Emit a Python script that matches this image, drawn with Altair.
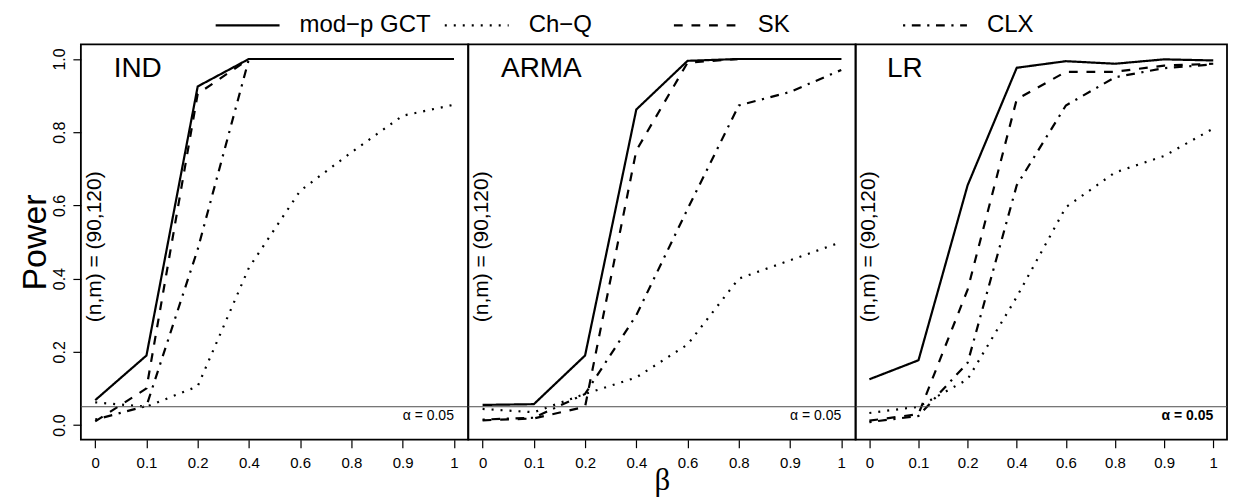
import json
import altair as alt
import pandas as pd

# ---------------- data ----------------
BETA_LABELS = ["0", "0.1", "0.2", "0.4", "0.6", "0.8", "0.9", "1"]
SERIES = ["mod−p GCT", "Ch−Q", "SK", "CLX"]
PANELS = ["IND", "ARMA", "LR"]
SETTING = "(n,m) = (90,120)"
ALPHA_TEXT = "α = 0.05"
ALPHA = 0.05

IND_GCT = [0.068, 0.19, 0.925, 1.0, 1.0, 1.0, 1.0, 1.0]
IND_CHQ = [0.062, 0.05, 0.106, 0.43, 0.64, 0.745, 0.845, 0.875]
IND_SK = [0.010, 0.10, 0.905, 1.0, 1.0, 1.0, 1.0, 1.0]
IND_CLX = [0.015, 0.052, 0.48, 1.0, 1.0, 1.0, 1.0, 1.0]

ARMA_GCT = [0.055, 0.057, 0.19, 0.862, 0.995, 1.0, 1.0, 1.0]
ARMA_CHQ = [0.044, 0.035, 0.085, 0.13, 0.22, 0.40, 0.45, 0.50]
ARMA_SK = [0.013, 0.018, 0.05, 0.75, 0.99, 1.0, 1.0, 1.0]
ARMA_CLX = [0.015, 0.02, 0.085, 0.30, 0.59, 0.873, 0.91, 0.97]

LR_GCT = [0.125, 0.177, 0.655, 0.976, 0.994, 0.987, 0.999, 0.996]
LR_CHQ = [0.033, 0.05, 0.125, 0.35, 0.595, 0.69, 0.735, 0.81]
LR_SK = [0.012, 0.03, 0.37, 0.89, 0.965, 0.965, 0.982, 0.987]
LR_CLX = [0.008, 0.025, 0.17, 0.655, 0.873, 0.95, 0.975, 0.985]

PANEL_DATA = {
    "IND": [IND_GCT, IND_CHQ, IND_SK, IND_CLX],
    "ARMA": [ARMA_GCT, ARMA_CHQ, ARMA_SK, ARMA_CLX],
    "LR": [LR_GCT, LR_CHQ, LR_SK, LR_CLX],
}

rows = []
for p in PANELS:
    for s, vals in zip(SERIES, PANEL_DATA[p]):
        for i, v in enumerate(vals):
            rows.append({"panel": p, "series": s, "idx": i + 1, "power": v})
df = pd.DataFrame(rows)

# ---------------- styling ----------------
FONT = "Liberation Sans"
PANEL_W = [388, 388, 372]
PH = 396

dash_scale = alt.Scale(domain=SERIES,
                       range=[[1, 0], [2, 7], [8.8, 8.8], [2.2, 6.6, 8.8, 6.6]])
legend = alt.Legend(orient="none", legendX=155, legendY=-31,
                    direction="horizontal", columns=4, title=None,
                    symbolType="M-3,0H3", symbolSize=455, symbolStrokeWidth=2.2,
                    symbolStrokeColor="black", symbolFillColor="transparent",
                    labelFontSize=24, labelFont=FONT,
                    labelColor="black", labelOffset=40, columnPadding=8.5,
                    gridAlign="all", padding=0)

x_scale = alt.Scale(domain=[0.72, 8.28], nice=False, zero=False)
y_scale = alt.Scale(domain=[-0.04, 1.04], nice=False, zero=False)
label_expr = f"{json.dumps(BETA_LABELS)}[datum.value - 1]"


def x_axis(i):
    kw = dict(values=list(range(1, 9)), labelExpr=label_expr, domain=False,
              grid=False, tickSize=8, tickColor="black", tickWidth=1.2,
              labelFontSize=15, labelFont=FONT, labelColor="black",
              labelPadding=8, labelAngle=0, labelFlush=False, labelOverlap=False)
    if i == 1:
        kw.update(title="β", titleFontSize=31, titleFont="Liberation Serif",
                  titleFontWeight="normal", titleColor="black",
                  titleX=PANEL_W[1] / 2, titleY=50, titleAlign="center",
                  titleBaseline="alphabetic")
    else:
        kw.update(title="")
    return alt.Axis(**kw)


y_axis = alt.Axis(values=[0, 0.2, 0.4, 0.6, 0.8, 1.0], format=".1f",
                  domain=False, grid=False, tickSize=8, tickColor="black",
                  tickWidth=1.2, labelAngle=270, labelFontSize=16,
                  labelFont=FONT, labelColor="black", labelPadding=5,
                  labelAlign="center", labelBaseline="bottom",
                  title="Power", titleFontSize=34, titleFont=FONT,
                  titleFontWeight="normal", titleColor="black",
                  titleAngle=270, titleX=-45, titleY=PH / 2,
                  titleAlign="center", titleBaseline="middle")


def panel(i, name):
    d = df[df.panel == name]
    X = alt.X("idx:Q", scale=x_scale, axis=x_axis(i))
    Y = alt.Y("power:Q", scale=y_scale, axis=y_axis if i == 0 else None)

    rule = alt.Chart(pd.DataFrame({"a": [ALPHA]})).mark_rule(
        color="#4d4d4d", strokeWidth=1).encode(y=alt.Y("a:Q", scale=y_scale))

    lines = alt.Chart(d).mark_line(color="black", strokeWidth=2.2).encode(
        x=X, y=Y,
        strokeDash=alt.StrokeDash("series:N", scale=dash_scale, legend=legend),
    )

    lab = alt.Chart(pd.DataFrame({"t": [name]})).mark_text(
        font=FONT, fontSize=28, align="left", baseline="alphabetic",
        color="black").encode(x=alt.datum(1.36), y=alt.datum(0.95), text="t:N")

    sett = alt.Chart(pd.DataFrame({"t": [SETTING]})).mark_text(
        font=FONT, fontSize=21, align="center", baseline="middle", angle=270,
        color="black").encode(x=alt.datum(0.99), y=alt.datum(0.487), text="t:N")

    al = alt.Chart(pd.DataFrame({"t": [ALPHA_TEXT]})).mark_text(
        font=FONT, fontSize=14, align="right", baseline="middle", color="black",
        fontWeight="bold" if name == "LR" else "normal").encode(
        x=alt.datum(8.0), y=alt.datum(0.024), text="t:N")

    return alt.layer(lines, rule, lab, sett, al).properties(
        width=PANEL_W[i], height=PH)


chart = alt.hconcat(*[panel(i, n) for i, n in enumerate(PANELS)],
                    spacing=0, bounds="flush").properties(
    padding={"left": 10, "top": 5, "right": 0, "bottom": 0}
).configure(font=FONT,
            view=alt.ViewConfig(stroke="black", strokeWidth=1.8))

chart.save("out.html", embed_options={"renderer": "svg", "actions": False})
